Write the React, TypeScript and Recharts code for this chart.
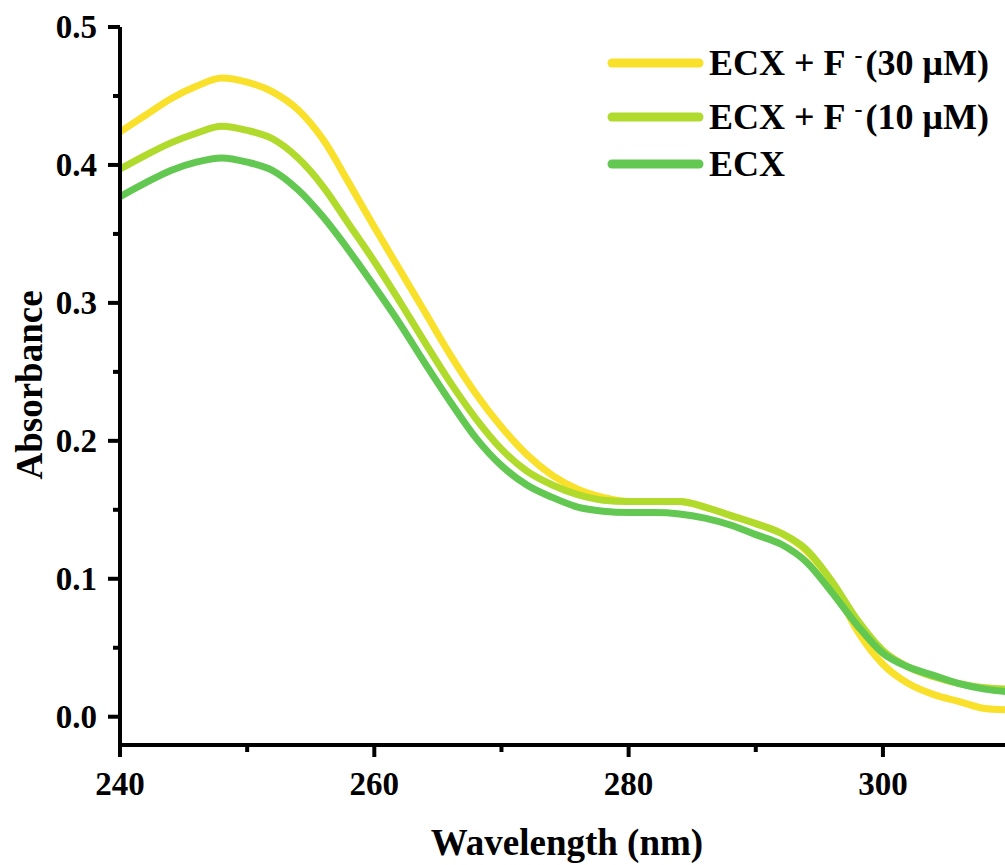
import React from 'react';
import { LineChart, Line, XAxis, YAxis } from 'recharts';

// wavelength grid (nm)
const wavelengths = [
  240, 242, 244, 246, 248, 250, 252, 254, 256, 258, 260, 262, 264, 266, 268, 270, 272, 274,
  276, 278, 280, 282, 284, 286, 288, 290, 292, 294, 296, 298, 300, 302, 304, 306, 308, 310,
];

// ECX + F- (30 uM)
const f30 = [
  0.424, 0.436, 0.448, 0.457, 0.463, 0.460, 0.453, 0.440, 0.418, 0.387, 0.355, 0.324, 0.293, 0.262,
  0.234, 0.210, 0.190, 0.175, 0.165, 0.159, 0.156, 0.156, 0.156, 0.152, 0.146, 0.140, 0.133, 0.120,
  0.097, 0.062, 0.038, 0.024, 0.016, 0.011, 0.006, 0.005,
];

// ECX + F- (10 uM)
const f10 = [
  0.397, 0.407, 0.416, 0.423, 0.428, 0.425, 0.419, 0.405, 0.384, 0.357, 0.330, 0.301, 0.271, 0.242,
  0.216, 0.194, 0.178, 0.168, 0.161, 0.157, 0.156, 0.156, 0.156, 0.152, 0.146, 0.140, 0.133, 0.121,
  0.098, 0.070, 0.048, 0.036, 0.029, 0.024, 0.021, 0.020,
];

// ECX only
const ecx = [
  0.377, 0.387, 0.396, 0.402, 0.405, 0.402, 0.396, 0.382, 0.362, 0.338, 0.312, 0.285, 0.256, 0.228,
  0.202, 0.182, 0.168, 0.159, 0.152, 0.149, 0.148, 0.148, 0.147, 0.144, 0.139, 0.132, 0.125, 0.112,
  0.090, 0.066, 0.046, 0.036, 0.030, 0.024, 0.020, 0.018,
];

// major ticks get a label, the ones in between are minor
const xTicks = [240, 250, 260, 270, 280, 290, 300];
const xMajor = [240, 260, 280, 300];
const yTicks = [0, 0.05, 0.1, 0.15, 0.2, 0.25, 0.3, 0.35, 0.4, 0.45, 0.5];
const yMajor = [0, 0.1, 0.2, 0.3, 0.4, 0.5];

const series = [
  { key: 'f30', name: 'ECX + F', sup: '-', tail: '(30 μM)', color: '#F9E02A' },
  { key: 'f10', name: 'ECX + F', sup: '-', tail: '(10 μM)', color: '#B0DA2C' },
  { key: 'ecx', name: 'ECX', sup: '', tail: '', color: '#62C852' },
];

const data = wavelengths.map((w, i) => ({ w, f30: f30[i], f10: f10[i], ecx: ecx[i] }));

const FONT = '"Liberation Serif", "Times New Roman", serif';
const tickFont = { fontFamily: FONT, fontWeight: 700, fontSize: 33 };
const titleFont = { fontFamily: FONT, fontWeight: 700, fontSize: 37 };
const legendFont = { fontFamily: FONT, fontWeight: 700, fontSize: 36 };

const isMajor = (list: number[], v: number) => list.some((m) => Math.abs(m - v) < 1e-6);

function XTick(props: any) {
  const { x, y, payload } = props;
  const major = isMajor(xMajor, payload.value);
  return (
    <g>
      <line x1={x} x2={x} y1={y} y2={y + (major ? 12 : 7)} stroke="#000" strokeWidth={4} />
      {major && (
        <text x={x} y={y + 50} textAnchor="middle" style={tickFont} fill="#000">
          {payload.value}
        </text>
      )}
    </g>
  );
}

function YTick(props: any) {
  const { x, y, payload } = props;
  const major = isMajor(yMajor, payload.value);
  return (
    <g>
      <line x1={x - (major ? 12 : 7)} x2={x} y1={y} y2={y} stroke="#000" strokeWidth={4} />
      {major && (
        <text x={x - 23} y={y + 11} textAnchor="end" style={tickFont} fill="#000">
          {Number(payload.value).toFixed(1)}
        </text>
      )}
    </g>
  );
}

export default function App() {
  return (
    <div style={{ position: 'fixed', left: 0, top: 0, width: 1005, height: 865, background: '#fff', overflow: 'hidden' }}>
      <LineChart width={1005} height={865} data={data} margin={{ top: 27, right: 0, left: 0, bottom: 0 }}>
        <XAxis
          dataKey="w"
          type="number"
          domain={[240, 309.6]}
          ticks={xTicks}
          interval={0}
          allowDataOverflow
          height={120}
          tickSize={0}
          tickMargin={0}
          axisLine={{ stroke: '#000', strokeWidth: 4 }}
          tickLine={false}
          tick={<XTick />}
        />
        <XAxis
          xAxisId="top"
          orientation="top"
          dataKey="w"
          type="number"
          domain={[240, 309.6]}
          height={0}
          tick={false}
          tickLine={false}
          axisLine={{ stroke: '#000', strokeWidth: 4 }}
        />
        <YAxis
          type="number"
          domain={[-0.0205, 0.5]}
          ticks={yTicks}
          interval={0}
          allowDataOverflow
          width={120}
          tickSize={0}
          tickMargin={0}
          axisLine={{ stroke: '#000', strokeWidth: 4 }}
          tickLine={false}
          tick={<YTick />}
        />
        {series.map((s) => (
          <Line
            key={s.key}
            type="monotone"
            dataKey={s.key}
            name={s.name}
            stroke={s.color}
            strokeWidth={7}
            dot={false}
            activeDot={false}
            isAnimationActive={false}
          />
        ))}
      </LineChart>
      <svg width={1005} height={865} style={{ position: 'absolute', left: 0, top: 0, pointerEvents: 'none' }}>
        {/* legend */}
        {series.map((s, i) => {
          const y = [63, 117, 164][i];
          return (
            <g key={s.key}>
              <line x1={612} x2={699} y1={y} y2={y} stroke={s.color} strokeWidth={9} strokeLinecap="round" />
              <text x={709} y={y + 12} style={legendFont} fill="#000">
                {s.name}
                {s.sup && (
                  <>
                    <tspan fontSize={24} dx={9} dy={-12}>{s.sup}</tspan>
                    <tspan fontSize={36} dx={3} dy={12}>{s.tail}</tspan>
                  </>
                )}
              </text>
            </g>
          );
        })}
        <text x={567} y={855} textAnchor="middle" style={titleFont} fill="#000">
          Wavelength (nm)
        </text>
        <text x={42} y={385} textAnchor="middle" transform="rotate(-90 42 385)" style={titleFont} fill="#000">
          Absorbance
        </text>
      </svg>
    </div>
  );
}
